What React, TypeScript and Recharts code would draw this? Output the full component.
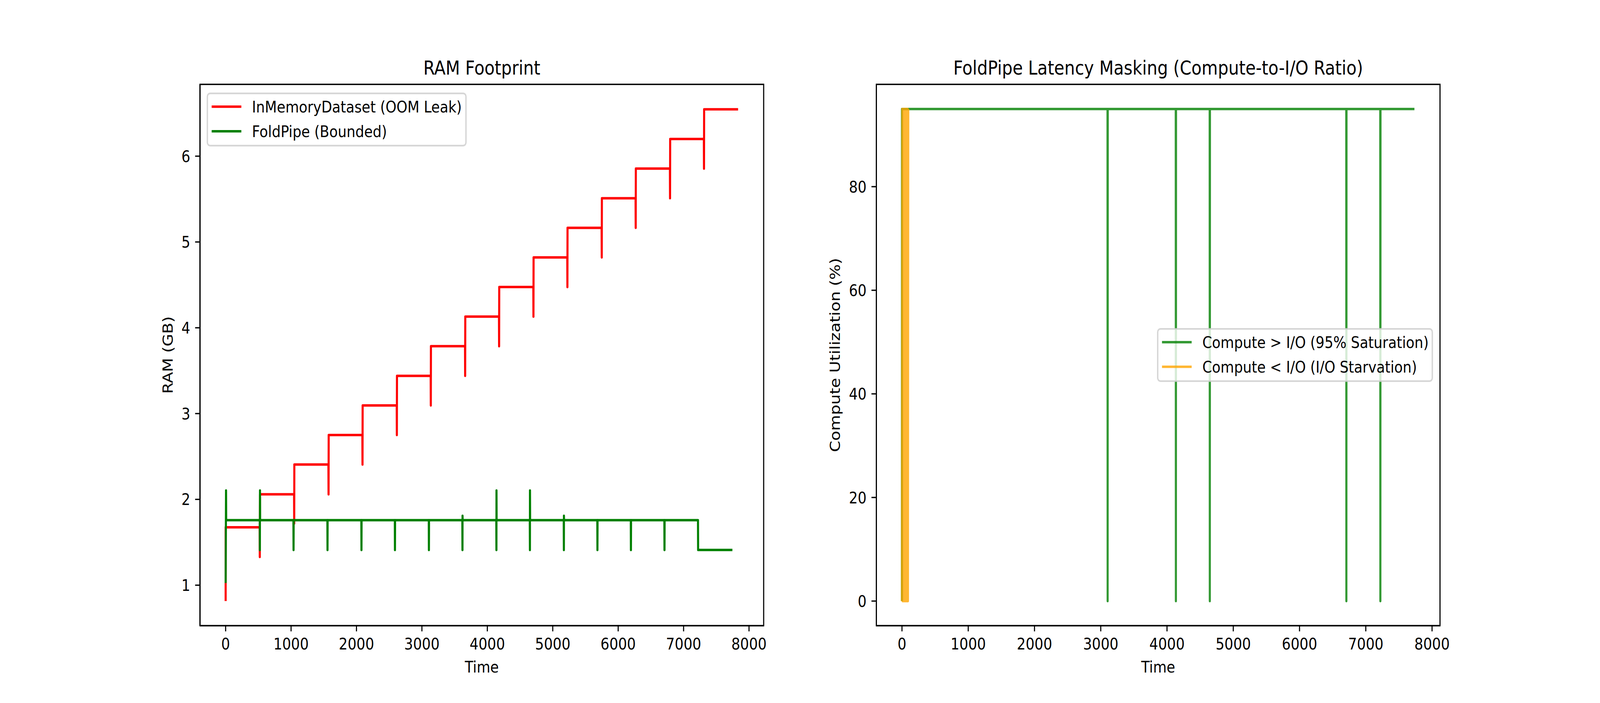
import React from 'react';
import { LineChart, Line, XAxis, YAxis, Legend, ReferenceArea } from 'recharts';

const FONT = '"DejaVu Sans", sans-serif';
const FS = 41.67;
const LW = 6.25;
const SPINE = 3.33;
const TICK = 14.6;

// ---- tick labels ----
const timeTicks = [0, 1000, 2000, 3000, 4000, 5000, 6000, 7000, 8000];
const ramTicks = [1, 2, 3, 4, 5, 6];
const utilTicks = [0, 20, 40, 60, 80];

const ramXDomain = [-392, 8224];
const ramYDomain = [0.528, 6.837];
const utilXDomain = [-387, 8120];
const utilYDomain = [-4.75, 99.75];

// ---- RAM Footprint: InMemoryDataset (OOM Leak) ----
const leakTime = [
  0, 0, 520, 522, 525, 1046, 1048, 1050, 1571, 1573, 1575, 2090, 2092, 2094,
  2615, 2617, 2619, 3134, 3136, 3138, 3659, 3661, 3663, 4178, 4180, 4182,
  4703, 4705, 4707, 5222, 5224, 5226, 5747, 5749, 5751, 6266, 6268, 6270,
  6791, 6793, 6795, 7310, 7312, 7314, 7833,
];
const leakRam = [
  0.815, 1.674, 1.674, 1.329, 2.059, 2.059, 1.72, 2.406, 2.406, 2.059, 2.75, 2.75, 2.406, 3.095,
  3.095, 2.75, 3.44, 3.44, 3.095, 3.785, 3.785, 3.44, 4.13, 4.13, 3.785, 4.475,
  4.475, 4.13, 4.82, 4.82, 4.475, 5.165, 5.165, 4.82, 5.51, 5.51, 5.165, 5.855,
  5.855, 5.51, 6.2, 6.2, 5.855, 6.546, 6.546,
];

// ---- RAM Footprint: FoldPipe (Bounded) ----
const foldTime = [
  0, 6, 8, 522, 523, 525, 527, 1036, 1038, 1040, 1555, 1557, 1559, 2074, 2076, 2078,
  2586, 2588, 2590, 3105, 3107, 3109, 3618, 3620, 3621, 3623, 4137, 4139, 4140, 4142,
  4649, 4651, 4652, 4654, 5168, 5170, 5171, 5173, 5681, 5683, 5685, 6193, 6195, 6197,
  6706, 6708, 6710, 7220, 7222, 7746,
];
const foldRam = [
  1.025, 2.103, 1.758, 1.758, 1.41, 2.103, 1.758, 1.758, 1.41, 1.758, 1.758, 1.41, 1.758, 1.758, 1.41, 1.758,
  1.758, 1.41, 1.758, 1.758, 1.41, 1.758, 1.758, 1.41, 1.809, 1.758, 1.758, 1.41, 2.103, 1.758,
  1.758, 1.41, 2.103, 1.758, 1.758, 1.41, 1.809, 1.758, 1.758, 1.41, 1.758, 1.758, 1.41, 1.758,
  1.758, 1.41, 1.758, 1.758, 1.41, 1.41,
];

// ---- Latency Masking: Compute > I/O (95% Saturation) ----
const satTime = [0, 0, 3102, 3104, 3106, 4132, 4134, 4136, 4644, 4646, 4648, 6705, 6707, 6709, 7218, 7220, 7222, 7734];
const satUtil = [0, 95, 95, 0, 95, 95, 0, 95, 95, 0, 95, 95, 0, 95, 95, 0, 95, 95];

// ---- Latency Masking: Compute < I/O (I/O Starvation) ----
const starveTime = [0, 5, 10, 15, 20, 25, 30, 35, 40, 45, 50, 55, 60, 65, 70, 75, 80, 85, 90, 95];
const starveUtil = [0, 95, 0, 95, 0, 95, 0, 95, 0, 95, 0, 95, 0, 95, 0, 95, 0, 95, 0, 95];

const toRows = (ts: number[], vs: number[]) => ts.map((t, i) => ({ t, v: vs[i] }));
const leakData = toRows(leakTime, leakRam);
const foldData = toRows(foldTime, foldRam);
const satData = toRows(satTime, satUtil);
const starveData = toRows(starveTime, starveUtil);

const leftLegend = [
  { label: 'InMemoryDataset (OOM Leak)', color: '#ff0000', opacity: 1 },
  { label: 'FoldPipe (Bounded)', color: '#008000', opacity: 1 },
];
const rightLegend = [
  { label: 'Compute > I/O (95% Saturation)', color: '#008000', opacity: 0.8 },
  { label: 'Compute < I/O (I/O Starvation)', color: '#ffa500', opacity: 0.8 },
];

type Item = { label: string; color: string; opacity: number };

function LegendBox({ items, width, height }: { items: Item[]; width: number; height: number }) {
  return (
    <svg width={width} height={height} style={{ display: 'block', overflow: 'visible' }}>
      <rect
        x={2.08}
        y={2.08}
        width={width - 4.17}
        height={height - 4.17}
        rx={8.3}
        ry={8.3}
        fill="#ffffff"
        fillOpacity={0.8}
        stroke="#cccccc"
        strokeOpacity={0.8}
        strokeWidth={4.17}
      />
      {items.map((it, i) => (
        <g key={i}>
          <line
            x1={15}
            x2={104}
            y1={36 + 63 * i}
            y2={36 + 63 * i}
            stroke={it.color}
            strokeOpacity={it.opacity}
            strokeWidth={LW}
          />
          <text x={136} y={36 + 63 * i + 15} fontSize={FS} fontFamily={FONT} fill="#000">
            {it.label}
          </text>
        </g>
      ))}
    </svg>
  );
}

const axisProps = {
  stroke: '#000',
  axisLine: { stroke: '#000', strokeWidth: SPINE },
  tickLine: { stroke: '#000', strokeWidth: SPINE },
  tick: { fill: '#000', fontSize: FS, fontFamily: FONT },
  tickSize: TICK,
  allowDataOverflow: true,
  interval: 0 as const,
};

const FIG_W = 4800;
const FIG_H = 1800;

export default function App() {
  // The browser viewport can be narrower than the 4800px figure; squeeze it horizontally to fit.
  const vw = typeof window !== 'undefined' ? window.innerWidth : FIG_W;
  const sx = Math.min(1, vw / FIG_W);
  return (
    <div
      style={{
        position: 'absolute',
        left: 0,
        top: 0,
        width: FIG_W,
        height: FIG_H,
        background: '#fff',
        transform: `scale(${sx}, 1)`,
        transformOrigin: '0 0',
      }}
    >
      {/* Left: RAM Footprint */}
      <div style={{ position: 'absolute', left: 0, top: 0, width: 2400, height: 1800 }}>
        <LineChart width={2400} height={1800} margin={{ top: 216, right: 109, bottom: 48, left: 450 }}>
          <XAxis
            {...axisProps}
            type="number"
            dataKey="t"
            domain={ramXDomain}
            ticks={timeTicks}
            height={150}
            tickMargin={16.8}
          />
          <YAxis
            {...axisProps}
            type="number"
            domain={ramYDomain}
            ticks={ramTicks}
            width={150}
            tickMargin={14.6}
          />
          <ReferenceArea
            x1={ramXDomain[0]}
            x2={ramXDomain[1]}
            y1={ramYDomain[0]}
            y2={ramYDomain[1]}
            fill="none"
            fillOpacity={0}
            stroke="#000"
            strokeWidth={SPINE}
            ifOverflow="visible"
          />
          <Line
            data={leakData}
            dataKey="v"
            name="InMemoryDataset (OOM Leak)"
            type="linear"
            stroke="#ff0000"
            strokeWidth={LW}
            strokeLinejoin="round"
            dot={false}
            activeDot={false}
            isAnimationActive={false}
          />
          <Line
            data={foldData}
            dataKey="v"
            name="FoldPipe (Bounded)"
            type="linear"
            stroke="#008000"
            strokeWidth={LW}
            strokeLinejoin="round"
            dot={false}
            activeDot={false}
            isAnimationActive={false}
          />
          <Legend
            layout="vertical"
            align="center"
            verticalAlign="middle"
            wrapperStyle={{ left: 620, top: 237, width: 780, height: 138 }}
            content={() => <LegendBox items={leftLegend} width={780} height={138} />}
          />
        </LineChart>
      </div>

      {/* Right: Latency Masking */}
      <div style={{ position: 'absolute', left: 2400, top: 0, width: 2400, height: 1800 }}>
        <LineChart width={2400} height={1800} margin={{ top: 216, right: 480, bottom: 48, left: 79 }}>
          <XAxis
            {...axisProps}
            type="number"
            dataKey="t"
            domain={utilXDomain}
            ticks={timeTicks}
            height={150}
            tickMargin={16.8}
          />
          <YAxis
            {...axisProps}
            type="number"
            domain={utilYDomain}
            ticks={utilTicks}
            width={150}
            tickMargin={14.6}
          />
          <ReferenceArea
            x1={utilXDomain[0]}
            x2={utilXDomain[1]}
            y1={utilYDomain[0]}
            y2={utilYDomain[1]}
            fill="none"
            fillOpacity={0}
            stroke="#000"
            strokeWidth={SPINE}
            ifOverflow="visible"
          />
          <Line
            data={satData}
            dataKey="v"
            name="Compute > I/O (95% Saturation)"
            type="linear"
            stroke="#008000"
            strokeOpacity={0.8}
            strokeWidth={LW}
            strokeLinejoin="round"
            dot={false}
            activeDot={false}
            isAnimationActive={false}
          />
          <Line
            data={starveData}
            dataKey="v"
            name="Compute < I/O (I/O Starvation)"
            type="linear"
            stroke="#ffa500"
            strokeOpacity={0.8}
            strokeWidth={LW}
            strokeLinejoin="round"
            dot={false}
            activeDot={false}
            isAnimationActive={false}
          />
          <Legend
            layout="vertical"
            align="center"
            verticalAlign="middle"
            wrapperStyle={{ left: 1071, top: 840, width: 828, height: 138 }}
            content={() => <LegendBox items={rightLegend} width={828} height={138} />}
          />
        </LineChart>
      </div>

      {/* Titles and axis labels */}
      <svg
        width={4800}
        height={1800}
        style={{ position: 'absolute', left: 0, top: 0, pointerEvents: 'none' }}
      >
        <g fontFamily={FONT} fill="#000">
          <text x={1445.5} y={191} fontSize={50} textAnchor="middle">RAM Footprint</text>
          <text x={3474.5} y={191} fontSize={50} textAnchor="middle">
            FoldPipe Latency Masking (Compute-to-I/O Ratio)
          </text>
          <text x={1445.5} y={1722} fontSize={FS} textAnchor="middle">Time</text>
          <text x={3474.5} y={1722} fontSize={FS} textAnchor="middle">Time</text>
          <text transform="translate(518, 909) rotate(-90)" fontSize={FS} textAnchor="middle">RAM (GB)</text>
          <text transform="translate(2520, 909) rotate(-90)" fontSize={FS} textAnchor="middle">
            Compute Utilization (%)
          </text>
        </g>
      </svg>
    </div>
  );
}
